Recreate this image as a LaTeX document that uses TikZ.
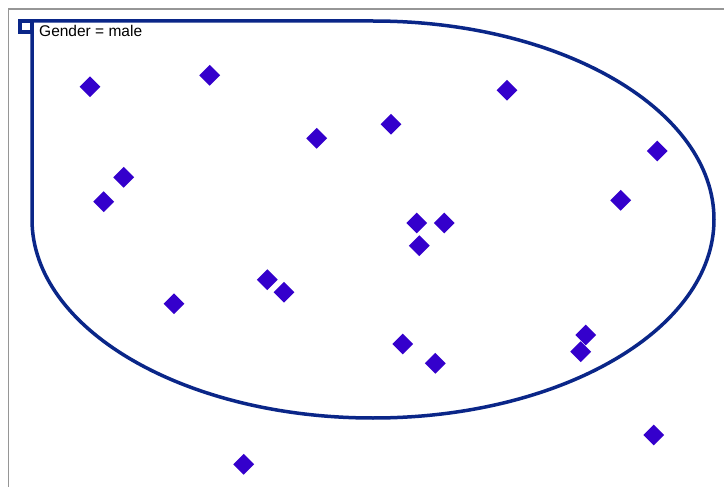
\documentclass[tikz,border=0pt]{standalone}
\usepackage{fontspec}
\setmainfont{Liberation Sans}
\usetikzlibrary{shapes.geometric}
\definecolor{navyline}{RGB}{10,38,136}
\definecolor{dotfill}{RGB}{52,0,204}
\definecolor{frame}{RGB}{150,150,150}
\begin{document}
\begin{tikzpicture}[x=1pt,y=-1pt,
  pt/.style={diamond,fill=dotfill,draw=none,minimum width=21pt,minimum height=21pt,inner sep=0pt},
  region/.style={draw=navyline,line width=3.5pt,line join=miter},
  lbl/.style={anchor=base west,inner sep=0pt,font=\fontsize{15.5}{18}\selectfont}]
\useasboundingbox (0,0) rectangle (724,487);
\fill[white] (0,0) rectangle (724,487);
\draw[frame,line width=1.3pt] (8.5,487) -- (8.5,9) -- (724,9);
% region outline
\draw[region] (373,21) arc[start angle=90,end angle=-180,x radius=341pt,y radius=198.5pt] -- (32,21) -- cycle;
\draw[region,line width=3.2pt] (20,21) rectangle (32,32);
\node[lbl] (label) at (39,36.5) {Gender = male};
% points
\node[pt] (p1) at (90,86.7) {};
\node[pt] (p2) at (209.7,75.3) {};
\node[pt] (p3) at (316.7,138.3) {};
\node[pt] (p4) at (391,124.3) {};
\node[pt] (p5) at (123.7,177.3) {};
\node[pt] (p6) at (103.7,201.7) {};
\node[pt] (p7) at (507,90.3) {};
\node[pt] (p8) at (657.3,151) {};
\node[pt] (p9) at (620.7,200.3) {};
\node[pt] (p10) at (416.7,223) {};
\node[pt] (p11) at (444.3,223) {};
\node[pt] (p12) at (419.3,245.7) {};
\node[pt] (p13) at (174,303.7) {};
\node[pt] (p14) at (267.3,279.7) {};
\node[pt] (p15) at (284,292.3) {};
\node[pt] (p16) at (402.7,344) {};
\node[pt] (p17) at (435.3,363.3) {};
\node[pt] (p18) at (585.7,335) {};
\node[pt] (p19) at (580.7,351.7) {};
\node[pt] (p20) at (653.7,435) {};
\node[pt] (p21) at (243.7,464.3) {};
\end{tikzpicture}
\end{document}
